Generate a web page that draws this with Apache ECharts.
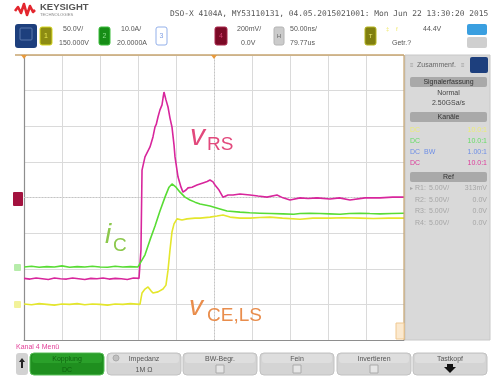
<!DOCTYPE html>
<html><head><meta charset="utf-8">
<script src="https://cdn.jsdelivr.net/npm/echarts@6/dist/echarts.min.js"></script>
<style>html,body{margin:0;padding:0;background:#fff}#c{width:500px;height:377px}</style>
</head><body><div id="c"></div>
<script>
// time in ns (50 ns/div, 10 div), vertical in divisions (8 div)
const timeTicks = [0,50,100,150,200,250,300,350,400,450,500];
const divTicks = [0,1,2,3,4,5,6,7,8];

// v_RS (channel 4, magenta)
const vRS = [[0,1.73],[8,1.71],[16,1.74],[24,1.72],[32,1.70],[40,1.74],[48,1.72],[56,1.71],[64,1.74],[72,1.72],[80,1.70],[88,1.73],[96,1.72],[104,1.74],[112,1.71],[120,1.73],[128,1.72],[136,1.70],[144,1.74],[151.3,1.73],[153.9,2.53],[155.3,4.77],[159.2,5.14],[165.8,5.42],[169.7,5.70],[172.4,5.98],[174,6.05],[176.3,6.26],[178.9,6.46],[181.6,6.60],[183,6.80],[184.2,6.96],[185.5,6.85],[186.8,6.74],[189.5,6.54],[192.1,6.23],[194.7,5.98],[197.4,5.47],[198.7,5.14],[201.3,4.77],[202.6,4.58],[206.6,4.29],[209.2,4.15],[213.2,4.21],[215.8,4.27],[221.1,4.29],[227.6,4.35],[235.5,4.41],[241,4.45],[244.7,4.49],[248.7,4.44],[251.3,4.35],[256.6,4.21],[261.8,4.01],[268.4,4.07],[275,4.07],[284.2,4.10],[297.4,4.07],[307.9,4.04],[319.7,4.01],[332.9,4.07],[340.8,3.99],[350,3.93],[363.2,3.99],[374,3.97],[385.5,3.99],[402.6,3.96],[415,3.99],[428.9,3.93],[448.7,3.99],[468.4,3.99],[485,4.01],[500,4.01]];

// i_C (channel 2, green)
const iC = [[0,2.05],[10,2.07],[20,2.04],[30,2.06],[40,2.05],[50,2.08],[60,2.04],[70,2.06],[80,2.05],[90,2.07],[100,2.05],[110,2.04],[120,2.07],[130,2.05],[140,2.06],[150,2.05],[152.6,2.05],[159.2,2.39],[165.8,2.81],[172.4,3.20],[178.9,3.62],[185.5,4.01],[190.8,4.29],[194.7,4.38],[200,4.29],[205.3,4.15],[211.8,4.01],[218.4,3.93],[225,3.87],[231.6,3.82],[244.7,3.76],[257.9,3.68],[267.1,3.62],[284.2,3.59],[297,3.57],[310.5,3.56],[325,3.55],[340.8,3.54],[355,3.53],[363.2,3.55],[376,3.56],[389.5,3.55],[402,3.54],[415.8,3.53],[428,3.55],[442.1,3.56],[455,3.55],[468.4,3.54],[484,3.55],[500,3.56]];

// v_CE,LS (channel 1, yellow)
const vCE = [[0,1.01],[10,0.99],[20,1.02],[30,1.00],[40,0.98],[50,1.01],[60,1.00],[70,1.02],[80,0.99],[90,1.01],[100,1.00],[110,0.98],[120,1.01],[130,1.00],[140,1.02],[152.6,1.00],[155.3,1.32],[159.2,1.43],[163.2,1.49],[167.1,1.38],[169.7,1.32],[176.3,1.35],[182.9,1.43],[186.8,1.54],[189.5,1.96],[192.1,2.53],[194.7,3.03],[197.4,3.26],[201.3,3.40],[207.9,3.37],[214.5,3.40],[225,3.42],[231.6,3.42],[244.7,3.45],[253.9,3.48],[261.8,3.51],[271.1,3.45],[284.2,3.42],[297.4,3.42],[310,3.44],[323.7,3.45],[340,3.42],[363.2,3.39],[380,3.42],[402.6,3.42],[420,3.43],[442.1,3.42],[460,3.41],[480,3.42],[500,3.42]];

const titleText = 'DSO-X 4104A, MY53110131, 04.05.2015021001: Mon Jun 22 13:30:20 2015';
const buttonLabels = [['Kopplung','DC'],['Impedanz','1M \u03A9'],['BW-Begr.',''],['Fein',''],['Invertieren',''],['Tastkopf','']];

const chart = echarts.init(document.getElementById('c'), null, {renderer:'canvas'});
const SANS = '"Liberation Sans", Arial, sans-serif';
const g = [];
function T(x,y,text,o){o=o||{};g.push({type:'text',x:x,y:y,z:o.z||50,style:{text:text,fill:o.fill||'#555',font:(o.style||'')+' '+(o.weight||'normal')+' '+(o.size||7)+'px '+(o.family||SANS),align:o.align||'left',verticalAlign:o.va||'middle'}});}
function R(x,y,w,h,fill,o){o=o||{};g.push({type:'rect',z:o.z||40,shape:{x:x,y:y,width:w,height:h,r:o.r||0},style:{fill:fill,stroke:o.stroke||null,lineWidth:o.lw||1}});}
function L(x1,y1,x2,y2,c,w,o){o=o||{};g.push({type:'line',z:o.z||45,shape:{x1:x1,y1:y1,x2:x2,y2:y2},style:{stroke:c,lineWidth:w||1,lineDash:o.dash||null}});}

// Logo
g.push({type:'polyline',z:50,shape:{points:[[15,11],[18,7],[21,13],[24,4],[27,15],[30,6],[33,12],[35,10]]},style:{stroke:'#e3262e',lineWidth:2.6,fill:null,lineJoin:'round'}});
T(40,7.5,'KEYSIGHT',{size:9.5,weight:'bold',fill:'#555'});
T(40,15,'TECHNOLOGIES',{size:4.2,fill:'#888'});
T(170,13.5,titleText,{size:7.9,family:'"DejaVu Sans Mono", monospace',fill:'#555'});

// Header row
R(15,24,22,24,'#1d3f7d',{r:3});
R(20,28,12,12,null,{stroke:'#5b79ad',r:1});
R(40,27,12,18,'#8d8c12',{stroke:'#d8d822',r:2});
T(46,36,'1',{fill:'#e8e850',align:'center'});
T(63,29,'50.0V/');T(59,43,'150.000V');
R(99,27,11,18,'#168d16',{stroke:'#3cbd3c',r:2});
T(104.5,36,'2',{fill:'#8ee08e',align:'center'});
T(121,29,'10.0A/');T(117,43,'20.0000A');
R(156,27,11,18,'#ffffff',{stroke:'#93b0ea',r:2});
T(161.5,36,'3',{fill:'#7f9ee4',align:'center'});
R(215,27,12,18,'#7b0a26',{stroke:'#a8264a',r:2});
T(221,36,'4',{fill:'#d04070',align:'center'});
T(237,29,'200mV/');T(241,43,'0.0V');
R(274,27,10,18,'#cbcbcb',{stroke:'#b4b4b4',r:2});
T(279,36,'H',{fill:'#666',align:'center',size:6});
T(290,29,'50.00ns/');T(290,43,'79.77us');
R(365,27,11,18,'#807f10',{stroke:'#b6b520',r:2});
T(370.5,36,'T',{fill:'#eeee70',align:'center',size:6});
T(386,29,'\u2021',{fill:'#f0e86a',size:6});T(396,29,'f',{fill:'#f0e86a',size:6});
T(423,29,'44.4V');T(392,43,'Getr.?');
R(467,24,20,11,'#3a9fe0',{r:2});
R(467,37,20,11,'#cfcfcf',{r:2});

// Plot frame
L(15,55,404,55,'#c7a46f',1.5);
L(404,55,404,340,'#c7a46f',1.2);
g.push({type:'polygon',z:60,shape:{points:[[21,55],[27,55],[24,59]]},style:{fill:'#e89a3c'}});
g.push({type:'polygon',z:60,shape:{points:[[211,55],[217,55],[214,59]]},style:{fill:'#e89a3c'}});
// ground markers
R(13,192,10,14,'#a3123f',{r:1,z:60});
R(14,264,7,7,'#b6ecaa',{r:1,z:60});
R(14,301,7,7,'#f2f29a',{r:1,z:60});
R(396,323,8,16,'#fbe9cf',{stroke:'#f0c890',z:60});

// Right panel
R(405,55,85,285,'#d9d9d9',{stroke:'#c8c8c8'});
T(417,65,'Zusammenf.',{size:7,fill:'#666'});
T(410,65,'\u2261',{size:6,fill:'#999'});T(461,65,'\u2261',{size:6,fill:'#999'});
R(470,57,18,16,'#1d3f7d',{r:2});
R(410,77,77,10,'#a9a9a9',{r:2});T(448.5,82,'Signalerfassung',{align:'center',fill:'#333'});
T(448.5,93,'Normal',{align:'center',fill:'#444'});
T(448.5,103,'2.50GSa/s',{align:'center',fill:'#444'});
R(410,112,77,10,'#a9a9a9',{r:2});T(448.5,117,'Kan\u00e4le',{align:'center',fill:'#333'});
T(410,130,'DC',{fill:'#ecec78'});T(487,130,'10.0:1',{align:'right',fill:'#ecec78'});
T(410,141,'DC',{fill:'#66dd66'});T(487,141,'10.0:1',{align:'right',fill:'#66dd66'});
T(410,152,'DC  BW',{fill:'#6f8fe6'});T(487,152,'1.00:1',{align:'right',fill:'#6f8fe6'});
T(410,163,'DC',{fill:'#dc3c9a'});T(487,163,'10.0:1',{align:'right',fill:'#dc3c9a'});
R(410,172,77,10,'#a9a9a9',{r:2});T(448.5,177,'Ref',{align:'center',fill:'#333'});
const refRows=[['R1:','5.00V/','313mV'],['R2:','5.00V/','0.0V'],['R3:','5.00V/','0.0V'],['R4:','5.00V/','0.0V']];
refRows.forEach((r,i)=>{const y=188+i*11.7;T(415,y,r[0],{fill:'#a6a6a6'});T(429,y,r[1],{fill:'#a6a6a6'});T(487,y,r[2],{align:'right',fill:'#a6a6a6'});});
T(410,188,'\u25B8',{fill:'#a6a6a6',size:6});

// Bottom menu
T(16,347,'Kanal 4 Men\u00fc',{fill:'#e23f98',size:7});
R(16,353,12,22,'#d2d2d2',{r:3});
g.push({type:'polygon',z:50,shape:{points:[[22,358],[19,362],[21,362],[21,368],[23,368],[23,362],[25,362]]},style:{fill:'#222'}});
const bx=[30,107,183,260,337,413];
bx.forEach((x,i)=>{
  const green=i===0;
  R(x,353,74,22,green?'#1f8f1f':'#d4d4d4',{r:4,stroke:green?'#58c058':'#c2c2c2'});
  R(x+2,354,70,9,green?'#2aa02a':'#dedede',{r:3,z:41});
  T(x+37,359,buttonLabels[i][0],{align:'center',fill:green?'#0f640f':'#555',size:7});
  if(buttonLabels[i][1]) T(x+37,370,buttonLabels[i][1],{align:'center',fill:green?'#0f640f':'#555',size:7});
  else if(i<5) R(x+33,365,8,8,'#e6e6e6',{stroke:'#aaa',z:45});
});
g.push({type:'circle',z:50,shape:{cx:116,cy:358,r:3},style:{fill:'#c0c0c0',stroke:'#aaa'}});
g.push({type:'polygon',z:50,shape:{points:[[444,367],[456,367],[450,373]]},style:{fill:'#111'}});
R(447,364,6,4,'#111',{z:50});

// Annotations
T(190,137,'v',{size:30,style:'italic',fill:'#e2497c',z:100});
T(207,145,'RS',{size:19,fill:'#e2497c',z:100});
T(105,235,'i',{size:28,style:'italic',fill:'#8cc84c',z:100});
T(113,246,'C',{size:19,fill:'#8cc84c',z:100});
T(189,307,'v',{size:28,style:'italic',fill:'#e98d4c',z:100});
T(207,316,'CE,LS',{size:19,fill:'#e98d4c',z:100});

function line(name,data,color){return {name:name,type:'line',data:data,showSymbol:false,symbol:'none',lineStyle:{color:color,width:1.6},itemStyle:{color:color},animation:false,z:5};}

chart.setOption({
  animation:false,
  backgroundColor:'#ffffff',
  grid:{left:24,top:55,width:380,height:285,containLabel:false},
  xAxis:{type:'value',min:timeTicks[0],max:timeTicks[timeTicks.length-1],interval:50,
    axisLabel:{show:false},axisTick:{show:false},
    axisLine:{show:true,lineStyle:{color:'#8e8e8e',width:1.2}},
    splitLine:{show:true,lineStyle:{color:'#dadada',width:1}}},
  yAxis:{type:'value',min:divTicks[0],max:divTicks[divTicks.length-1],interval:1,
    axisLabel:{show:false},axisTick:{show:false},
    axisLine:{show:true,lineStyle:{color:'#8e8e8e',width:1.2}},
    splitLine:{show:true,lineStyle:{color:'#dadada',width:1}}},
  graphic:{elements:g},
  series:[
    Object.assign(line('vCE',vCE,'#e4e62c'),{markLine:{silent:true,symbol:'none',label:{show:false},lineStyle:{color:'#c4c4c4',type:[1,2],width:1},data:[{xAxis:250},{yAxis:4}]}}),
    line('vRS',vRS,'#d8269c'),
    line('iC',iC,'#58dc34')
  ]
});
</script></body></html>
